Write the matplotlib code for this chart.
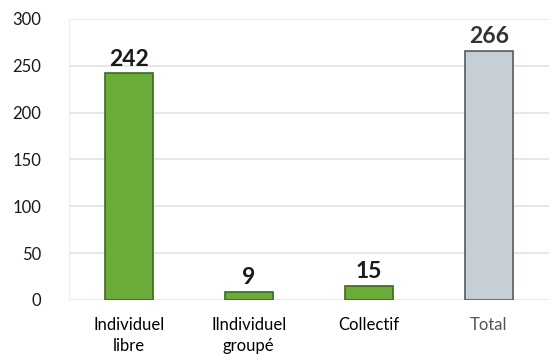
import matplotlib
matplotlib.use("Agg")
import matplotlib.pyplot as plt

categories = ["Individuel\nlibre", "Ilndividuel\ngroupé", "Collectif", "Total"]
values = [242, 9, 15, 266]
y_ticks = [0, 50, 100, 150, 200, 250, 300]

plt.rcParams['font.family'] = ['Lato', 'DejaVu Sans']

fig = plt.figure(figsize=(5.5, 3.64), dpi=100)
ax = fig.add_axes([0.125, 0.176, 0.873, 0.772])

face = ["#6aab3a", "#6aab3a", "#6aab3a", "#c6cfd5"]
edge = ["#3b6a22", "#3b6a22", "#3b6a22", "#555b5f"]
x = range(len(values))
ax.bar(x, values, width=0.4, color=face, edgecolor=edge, linewidth=1.2, zorder=3)

for i, v in enumerate(values):
    ax.text(i, v + 4, str(v), ha="center", va="bottom", fontsize=16.5,
            fontweight="bold", color="#1a1a1a" if i < 3 else "#333333")

ax.set_xlim(-0.5, 3.5)
ax.set_ylim(0, 300)
ax.set_yticks(y_ticks)
ax.tick_params(axis="y", labelsize=12, length=0, pad=20, labelcolor="#1a1a1a")
ax.set_xticks(list(x))
ax.set_xticklabels(categories, fontsize=12)
ax.tick_params(axis="x", length=0, pad=12)
for i, lbl in enumerate(ax.get_xticklabels()):
    lbl.set_multialignment("center")
    lbl.set_linespacing(1.45)
    if i == 3:
        lbl.set_color("#555555")

ax.grid(axis="y", color="#e3e3e3", linewidth=1.2, zorder=0)
for s in ["top", "right", "bottom"]:
    ax.spines[s].set_visible(False)
ax.spines["left"].set_color("#eeeeee")

fig.savefig("out.png", dpi=100)
